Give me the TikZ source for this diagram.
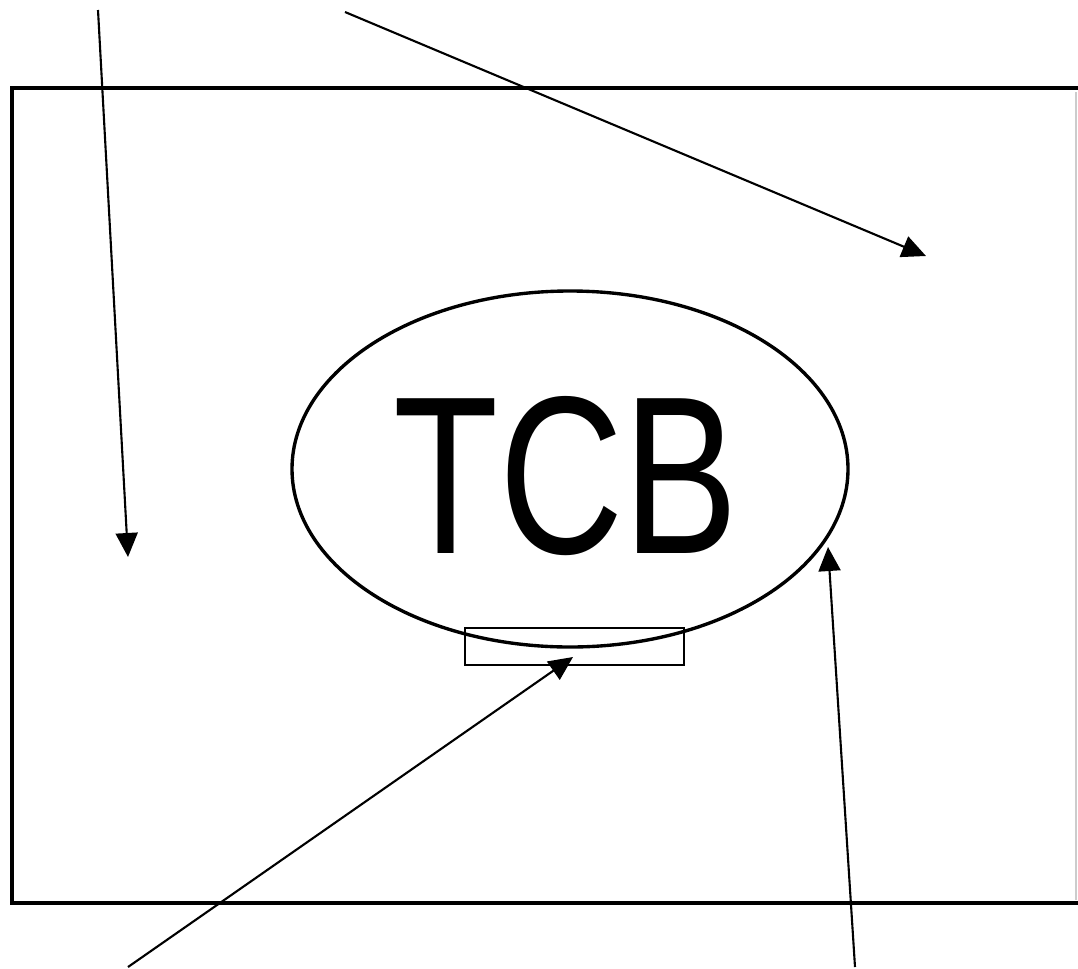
\documentclass[tikz,border=0pt]{standalone}
\usepackage{fontspec}
\setmainfont{Liberation Sans}
\usetikzlibrary{arrows.meta,shapes.geometric}
\tikzset{pointer/.style={-{Triangle[length=0.6cm,width=0.55cm]},line width=1.5pt}}
\begin{document}
\begin{tikzpicture}[x=0.025cm,y=-0.025cm]
\useasboundingbox (0,0) rectangle (1078,968);
\draw[line width=3.4pt] (1080,88) -- (12,88) -- (12,903) -- (1080,903);
\draw[gray!40,line width=0.8pt] (1076,92) -- (1076,900);
\node[draw,ellipse,line width=2.4pt,minimum width=556*0.025cm,minimum height=356*0.025cm,inner sep=0pt] (badge) at (570,469) {};
\node (code) at (566,476) {\fontsize{160}{160}\selectfont\scalebox{0.765}[1]{TCB}};
\node[draw,line width=1pt,minimum width=219*0.025cm,minimum height=37*0.025cm,inner sep=0pt] (plate) at (574.5,646.5) {};
\coordinate (a1s) at (98,10);
\coordinate (a1e) at (128,557);
\coordinate (a2s) at (345,12);
\coordinate (a2e) at (926,256);
\coordinate (a3s) at (128,967);
\coordinate (a3e) at (573,657);
\coordinate (a4s) at (855,967);
\coordinate (a4e) at (828,547);
\draw[pointer] (a1s) -- (a1e);
\draw[pointer] (a2s) -- (a2e);
\draw[pointer] (a3s) -- (a3e);
\draw[pointer] (a4s) -- (a4e);
\end{tikzpicture}
\end{document}
